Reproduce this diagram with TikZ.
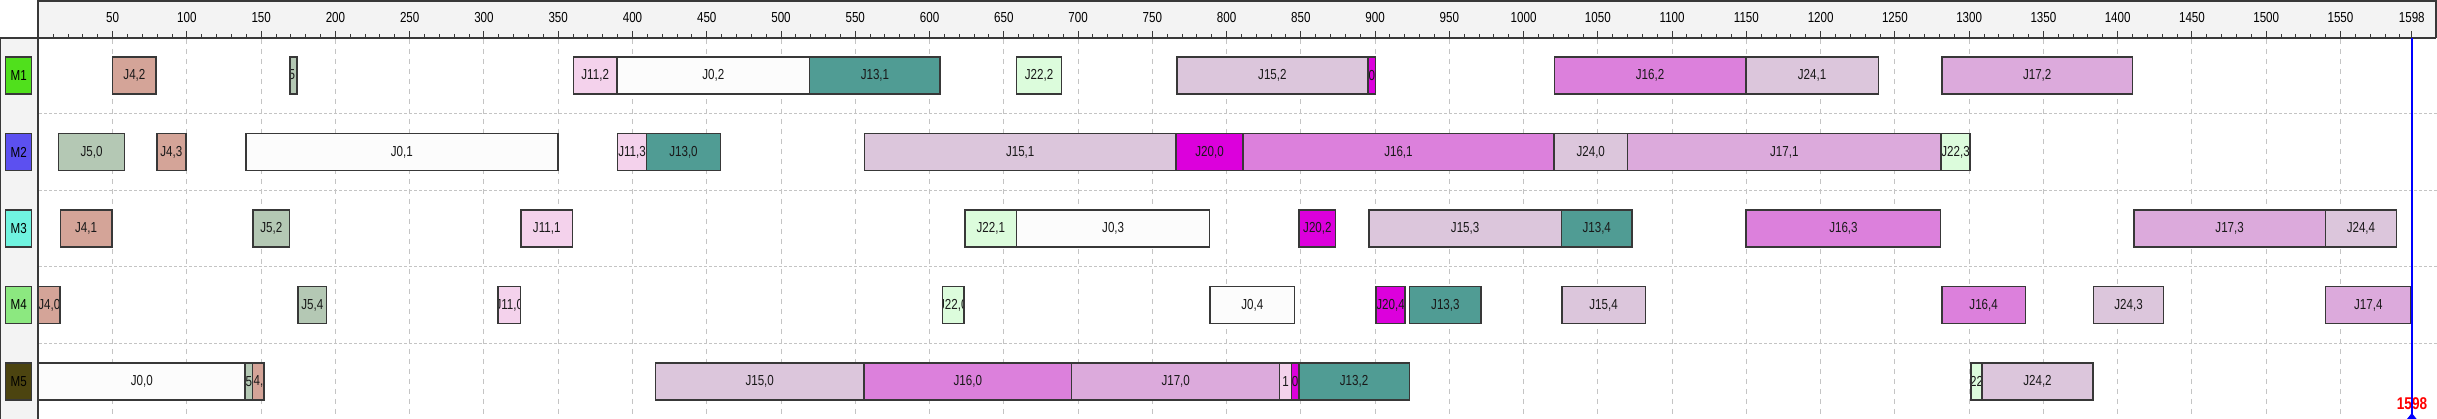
\documentclass[tikz,border=0pt]{standalone}
\usepackage{fontspec}
\setmainfont{Liberation Sans}[FakeStretch=0.8]
\definecolor{cj0}{HTML}{FCFCFC}
\definecolor{cj4}{HTML}{D4A498}
\definecolor{cj5}{HTML}{B4C8B4}
\definecolor{cj11}{HTML}{F4D2EC}
\definecolor{cj13}{HTML}{509C94}
\definecolor{cj15}{HTML}{DCC6DC}
\definecolor{cj16}{HTML}{DC80DC}
\definecolor{cj17}{HTML}{DCAADC}
\definecolor{cj20}{HTML}{DC00DC}
\definecolor{cj22}{HTML}{DCFCDC}
\definecolor{cj24}{HTML}{DCC6DC}
\definecolor{cm1}{HTML}{50E01C}
\definecolor{cm2}{HTML}{5C50F0}
\definecolor{cm3}{HTML}{70F4E0}
\definecolor{cm4}{HTML}{8CE880}
\definecolor{cm5}{HTML}{4C4410}
\definecolor{panel}{HTML}{F3F3F3}
\definecolor{edge}{HTML}{383838}
\definecolor{gridc}{HTML}{C4C4C4}
\tikzset{
  tborder/.style={draw=edge, line width=1.5pt},
  tlabel/.style={inner sep=0pt, text=black!90, font=\fontsize{14.5}{17}\selectfont},
  mbox/.style={draw=edge, line width=1.3pt, minimum width=26pt, minimum height=37pt, inner sep=0pt, font=\fontsize{14.5}{17}\selectfont},
  rlabel/.style={inner sep=0pt, font=\fontsize{14.5}{17}\selectfont},
  vgrid/.style={draw=gridc, line width=1pt, dash pattern=on 5pt off 5pt},
  hgrid/.style={draw=gridc, line width=1pt, dash pattern=on 3pt off 2pt},
  frame/.style={draw=edge, line width=1.5pt},
}
\newcommand\tsk[6]{%
  \pgfmathsetmacro\xa{38.4+1.4852*#3}%
  \pgfmathsetmacro\xb{38.4+1.4852*#4}%
  \pgfmathsetmacro\yc{75.5+76.5*(#2-1)}%
  \begin{scope}
    \clip (\xa,\yc-18.5) rectangle (\xb,\yc+18.5);
    \fill[#5] (\xa,\yc-18.5) rectangle (\xb,\yc+18.5);
    \node[tlabel] (#1) at ({(\xa+\xb)/2},\yc) {#6};
  \end{scope}
  \draw[tborder] (\xa,\yc-18.5) rectangle (\xb,\yc+18.5);
}
\begin{document}
\begin{tikzpicture}[x=1pt,y=-1pt]
\useasboundingbox (0,0) rectangle (2437,419);
% left panel and ruler
\fill[white] (0,0) rectangle (2437,419);
\fill[panel] (0,38) rectangle (38,419);
\fill[panel] (38,0) rectangle (2436,38);
\draw[frame] (38,1) -- (2436,1) -- (2436,38);
\draw[frame] (0,38) -- (2436,38);
\draw[frame] (38,0) -- (38,419);
\draw[draw=edge, line width=1pt] (0.5,38) -- (0.5,419);
% grid
\foreach \t in {50,100,...,1550} {
  \draw[vgrid] ({38.4+1.4852*\t},39) -- ({38.4+1.4852*\t},419);
}
\foreach \y in {113.75,190.25,266.75,343.25} {
  \draw[hgrid] (39,\y) -- (2437,\y);
}
% ruler ticks
\foreach \t in {10,20,...,1590} {
  \draw[edge, line width=1pt] ({38.4+1.4852*\t},34) -- ({38.4+1.4852*\t},38);
}
\foreach \t in {50,100,...,1550,1598} {
  \draw[edge, line width=1pt] ({38.4+1.4852*\t},31) -- ({38.4+1.4852*\t},38);
  \node[rlabel] (r\t) at ({38.4+1.4852*\t},18) {\t};
}
% machines
\node[mbox, fill=cm1] (M1) at (18.7,75.5) {M1};
\node[mbox, fill=cm2] (M2) at (18.7,152) {M2};
\node[mbox, fill=cm3] (M3) at (18.7,228.5) {M3};
\node[mbox, fill=cm4] (M4) at (18.7,305) {M4};
\node[mbox, fill=cm5] (M5) at (18.7,381.5) {M5};
% M1
\tsk{J4-2}{1}{50}{79.3}{cj4}{J4,2}
\tsk{J5-1}{1}{169.3}{174.1}{cj5}{5,}
\tsk{J11-2}{1}{360.3}{389.5}{cj11}{J11,2}
\tsk{J0-2}{1}{389.5}{519.3}{cj0}{J0,2}
\tsk{J13-1}{1}{519.3}{607.2}{cj13}{J13,1}
\tsk{J22-2}{1}{658.7}{688.8}{cj22}{J22,2}
\tsk{J15-2}{1}{766.5}{895.2}{cj15}{J15,2}
\tsk{J20-1}{1}{895.2}{900.3}{cj20}{0}
\tsk{J16-2}{1}{1020.7}{1149.6}{cj16}{J16,2}
\tsk{J24-1}{1}{1149.6}{1238.9}{cj24}{J24,1}
\tsk{J17-2}{1}{1281.6}{1410}{cj17}{J17,2}
% M2
\tsk{J5-0}{2}{13.5}{58}{cj5}{J5,0}
\tsk{J4-3}{2}{79.8}{99.3}{cj4}{J4,3}
\tsk{J0-1}{2}{139.8}{349.7}{cj0}{J0,1}
\tsk{J11-3}{2}{389.9}{409.6}{cj11}{J11,3}
\tsk{J13-0}{2}{409.6}{459.1}{cj13}{J13,0}
\tsk{J15-1}{2}{556.1}{766}{cj15}{J15,1}
\tsk{J20-0}{2}{766}{811.1}{cj20}{J20,0}
\tsk{J16-1}{2}{811.1}{1020.4}{cj16}{J16,1}
\tsk{J24-0}{2}{1020.4}{1070}{cj24}{J24,0}
\tsk{J17-1}{2}{1070}{1281}{cj17}{J17,1}
\tsk{J22-3}{2}{1281}{1300.7}{cj22}{J22,3}
% M3
\tsk{J4-1}{3}{14.8}{49.5}{cj4}{J4,1}
\tsk{J5-2}{3}{144.6}{169.1}{cj5}{J5,2}
\tsk{J11-1}{3}{325}{359.5}{cj11}{J11,1}
\tsk{J22-1}{3}{623.8}{658.7}{cj22}{J22,1}
\tsk{J0-3}{3}{658.7}{788.6}{cj0}{J0,3}
\tsk{J20-2}{3}{848.8}{873.5}{cj20}{J20,2}
\tsk{J15-3}{3}{895.8}{1025.5}{cj15}{J15,3}
\tsk{J13-4}{3}{1025.5}{1073}{cj13}{J13,4}
\tsk{J16-3}{3}{1149.9}{1280.8}{cj16}{J16,3}
\tsk{J17-3}{3}{1410.9}{1539.9}{cj17}{J17,3}
\tsk{J24-4}{3}{1539.9}{1587.7}{cj24}{J24,4}
% M4
\tsk{J4-0}{4}{0}{14.6}{cj4}{J4,0}
\tsk{J5-4}{4}{174.7}{194.1}{cj5}{J5,4}
\tsk{J11-0}{4}{309.6}{324.6}{cj11}{J11,0}
\tsk{J22-0}{4}{608.8}{623.2}{cj22}{J22,0}
\tsk{J0-4}{4}{789}{845.6}{cj0}{J0,4}
\tsk{J20-4}{4}{900.6}{920.2}{cj20}{J20,4}
\tsk{J13-3}{4}{923.3}{971.4}{cj13}{J13,3}
\tsk{J15-4}{4}{1025.7}{1082}{cj15}{J15,4}
\tsk{J16-4}{4}{1281.6}{1337.9}{cj16}{J16,4}
\tsk{J24-3}{4}{1383.8}{1430.8}{cj24}{J24,3}
\tsk{J17-4}{4}{1540}{1597.5}{cj17}{J17,4}
% M5
\tsk{J0-0}{5}{0}{139.2}{cj0}{J0,0}
\tsk{J5-3}{5}{139.2}{144.3}{cj5}{5}
\tsk{J4-4}{5}{144.3}{152}{cj4}{4,}
\tsk{J15-0}{5}{415.5}{555.8}{cj15}{J15,0}
\tsk{J16-0}{5}{555.8}{695.7}{cj16}{J16,0}
\tsk{J17-0}{5}{695.7}{835.8}{cj17}{J17,0}
\tsk{J11-4}{5}{835.8}{843.8}{cj11}{1}
\tsk{J20-3}{5}{843.8}{848.6}{cj20}{0}
\tsk{J13-2}{5}{848.6}{923.1}{cj13}{J13,2}
\tsk{J22-4}{5}{1301.2}{1308.7}{cj22}{22}
\tsk{J24-2}{5}{1308.7}{1383.3}{cj24}{J24,2}
% makespan marker
\coordinate (mtop) at (2411.8,38);
\coordinate (mbot) at (2411.8,419);
\node[inner sep=0pt, text=red, font=\bfseries\fontsize{17}{20}\selectfont] (mk) at (2412,403.5) {1598};
\draw[blue, line width=2pt] (mtop) -- (mbot);
\fill[blue] (2411.8,413) -- (2417,419.5) -- (2406.6,419.5) -- cycle;
\end{tikzpicture}
\end{document}
